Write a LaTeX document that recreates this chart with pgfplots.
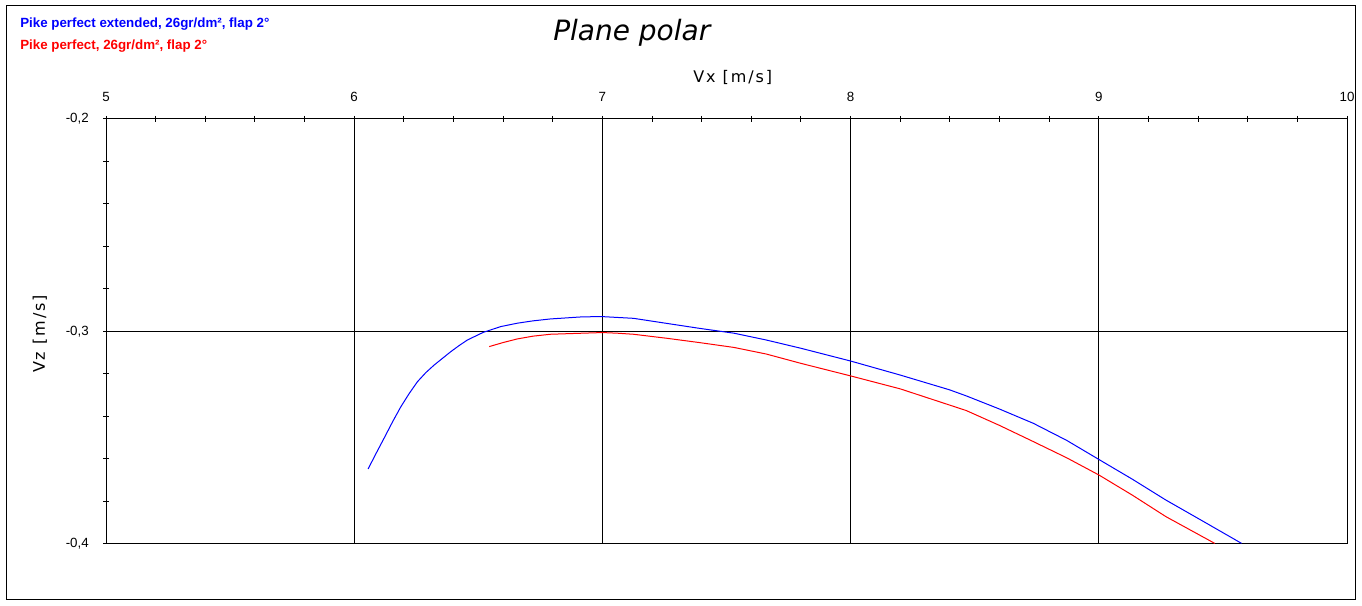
\documentclass[border=0pt]{standalone}
\usepackage{pgfplots}
\pgfplotsset{compat=1.18}
\usepackage{fontspec}
\setmainfont{Liberation Sans}
\newfontfamily\titlefont{DejaVu Sans}
\newfontfamily\labelfont[LetterSpace=12]{DejaVu Sans}
\begin{document}
\begin{tikzpicture}[x=0.75pt,y=0.75pt]
\path (0,0) rectangle (1362,606);
\draw[line width=0.75pt] (6,6) rectangle (1355,600);
\node[anchor=base west, inner sep=0pt, font=\fontsize{10pt}{12pt}\selectfont\bfseries, text=blue] at (20,578) {Pike perfect extended, 26gr/dm², flap 2°};
\node[anchor=base west, inner sep=0pt, font=\fontsize{10pt}{12pt}\selectfont\bfseries, text=red] at (20,556) {Pike perfect, 26gr/dm², flap 2°};
\node[anchor=base west, inner sep=0pt, font=\titlefont\fontsize{21pt}{24pt}\selectfont\itshape] at (553,565) {Plane polar};
\begin{axis}[
  at={(79.5pt,46.5pt)}, anchor=south west,
  scale only axis, width=930.75pt, height=318.75pt,
  xmin=5, xmax=10, ymin=-0.4, ymax=-0.2,
  xtick={5,6,7,8,9,10}, xticklabels={5,6,7,8,9,10},
  ytick={-0.4,-0.3,-0.2}, yticklabels={{-0,4},{-0,3},{-0,2}},
  minor x tick num=4, minor y tick num=4,
  xtick pos=right, xticklabel pos=right, ytick pos=left,
  tick align=center, major tick length=4.5pt, minor tick length=4.5pt,
  every tick/.style={black, line width=0.75pt},
  axis line style={black, line width=0.75pt},
  grid=major, major grid style={black, line width=0.75pt},
  ticklabel style={font=\fontsize{10pt}{11pt}\selectfont},
  xticklabel style={anchor=base, inner sep=0pt, yshift=10.5pt},
  yticklabel style={anchor=east, inner sep=0pt, xshift=-10.5pt},
  xlabel={Vx [m/s]}, ylabel={Vz [m/s]},
  label style={font=\labelfont\fontsize{12pt}{14pt}\selectfont, inner sep=0pt},
  xlabel style={at={(axis description cs:0.473,1.087)}, anchor=base west},
  ylabel style={at={(axis description cs:-0.0492,0.402)}, anchor=base west},
]
\addplot[blue, line width=0.75pt] coordinates {
(6.056,-0.3647) (6.088,-0.3574) (6.12,-0.3503) (6.155,-0.3424) (6.188,-0.3354)
(6.222,-0.3291) (6.255,-0.3236) (6.289,-0.3193) (6.322,-0.3158) (6.356,-0.3126)
(6.389,-0.3095) (6.423,-0.3066) (6.456,-0.3040) (6.52,-0.3004) (6.59,-0.2977)
(6.657,-0.2961) (6.72,-0.2950) (6.79,-0.2941) (6.92,-0.2931) (7.0,-0.2930)
(7.125,-0.2938) (7.26,-0.2962) (7.39,-0.2985) (7.53,-0.3008) (7.66,-0.3040)
(7.80,-0.3079) (8.0,-0.3139) (8.2,-0.3205) (8.40,-0.3275) (8.466,-0.3303)
(8.6,-0.3365) (8.736,-0.3432) (8.87,-0.3512) (9.0,-0.3602) (9.135,-0.3695)
(9.27,-0.3793) (9.42,-0.3893) (9.575,-0.3997)
};
\addplot[red, line width=0.75pt] coordinates {
(6.544,-0.3071) (6.6,-0.3052) (6.657,-0.3035) (6.72,-0.3022) (6.79,-0.3013)
(6.92,-0.3008) (7.0,-0.3005) (7.06,-0.3008) (7.125,-0.3013) (7.26,-0.3032)
(7.39,-0.3052) (7.53,-0.3075) (7.66,-0.3106) (7.80,-0.3150) (8.0,-0.3209)
(8.2,-0.3270) (8.32,-0.3316) (8.466,-0.3372) (8.6,-0.3442) (8.736,-0.3518)
(8.87,-0.3594) (9.0,-0.3675) (9.135,-0.3770) (9.27,-0.3871) (9.467,-0.3997)
};
\end{axis}
\end{tikzpicture}
\end{document}
